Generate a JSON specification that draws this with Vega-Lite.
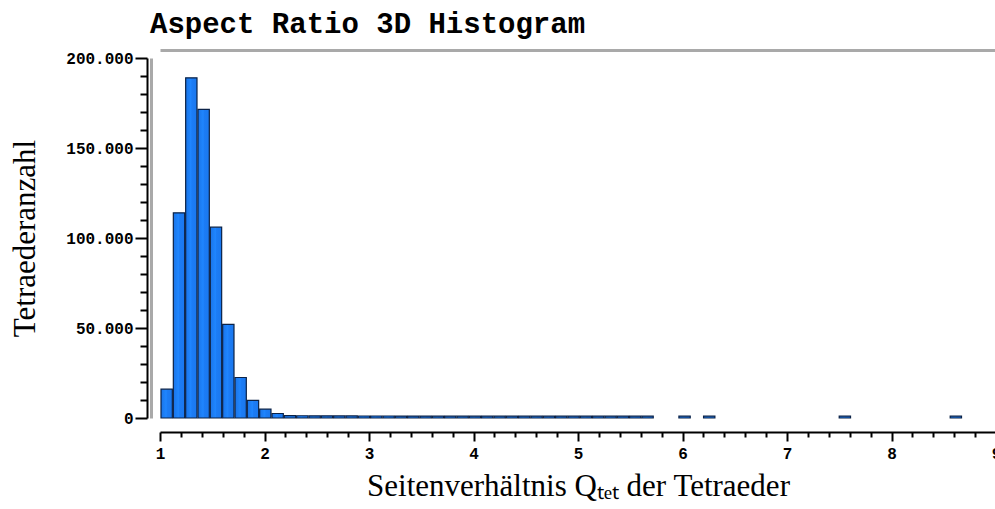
{
  "$schema": "https://vega.github.io/schema/vega-lite/v6.json",
  "autosize": {"type": "none"},
  "padding": {"left": 160, "top": 58, "right": 0, "bottom": 91},
  "width": 836,
  "height": 360,
  "background": "white",
  "title": {
    "text": "Aspect Ratio 3D Histogram",
    "anchor": "start",
    "frame": "group",
    "dx": -10,
    "offset": -12,
    "baseline": "alphabetic",
    "font": "Liberation Mono",
    "fontSize": 29,
    "fontWeight": "bold",
    "color": "black"
  },
  "config": {"view": {"stroke": null}},
  "data": {
    "values": [
      {"start": 1.000, "end": 1.118, "count": 16000},
      {"start": 1.118, "end": 1.236, "count": 114000},
      {"start": 1.236, "end": 1.354, "count": 189000},
      {"start": 1.354, "end": 1.472, "count": 171500},
      {"start": 1.472, "end": 1.590, "count": 106000},
      {"start": 1.590, "end": 1.708, "count": 52000},
      {"start": 1.708, "end": 1.826, "count": 22500},
      {"start": 1.826, "end": 1.944, "count": 9800},
      {"start": 1.944, "end": 2.062, "count": 4900},
      {"start": 2.062, "end": 2.180, "count": 2500},
      {"start": 2.180, "end": 2.298, "count": 1300},
      {"start": 2.298, "end": 2.416, "count": 1250},
      {"start": 2.416, "end": 2.534, "count": 1200},
      {"start": 2.534, "end": 2.652, "count": 1200},
      {"start": 2.652, "end": 2.770, "count": 1150},
      {"start": 2.770, "end": 2.888, "count": 1150},
      {"start": 2.888, "end": 3.006, "count": 1100},
      {"start": 3.006, "end": 3.124, "count": 1100},
      {"start": 3.124, "end": 3.242, "count": 1100},
      {"start": 3.242, "end": 3.360, "count": 1050},
      {"start": 3.360, "end": 3.478, "count": 1050},
      {"start": 3.478, "end": 3.596, "count": 1050},
      {"start": 3.596, "end": 3.714, "count": 1000},
      {"start": 3.714, "end": 3.832, "count": 1000},
      {"start": 3.832, "end": 3.950, "count": 1000},
      {"start": 3.950, "end": 4.068, "count": 1000},
      {"start": 4.068, "end": 4.186, "count": 1000},
      {"start": 4.186, "end": 4.304, "count": 1000},
      {"start": 4.304, "end": 4.422, "count": 1000},
      {"start": 4.422, "end": 4.540, "count": 1000},
      {"start": 4.540, "end": 4.658, "count": 1000},
      {"start": 4.658, "end": 4.776, "count": 1000},
      {"start": 4.776, "end": 4.894, "count": 1000},
      {"start": 4.894, "end": 5.012, "count": 1000},
      {"start": 5.012, "end": 5.130, "count": 1000},
      {"start": 5.130, "end": 5.248, "count": 1000},
      {"start": 5.248, "end": 5.366, "count": 1000},
      {"start": 5.366, "end": 5.484, "count": 1000},
      {"start": 5.484, "end": 5.602, "count": 1000},
      {"start": 5.602, "end": 5.720, "count": 1000},
      {"start": 5.956, "end": 6.074, "count": 1000},
      {"start": 6.192, "end": 6.310, "count": 1000},
      {"start": 7.490, "end": 7.608, "count": 1000},
      {"start": 8.552, "end": 8.670, "count": 1000}
    ]
  },
  "layer": [
    {
      "mark": {
        "type": "point",
        "opacity": 0
      },
      "encoding": {
        "x": {
          "field": "start",
          "type": "quantitative",
          "scale": {"domain": [1, 9], "nice": false, "zero": false},
          "axis": {
            "orient": "top",
            "offset": 8,
            "domainColor": "#a9a9a9",
            "domainWidth": 3,
            "ticks": false,
            "labels": false,
            "grid": false,
            "title": null
          }
        },
        "y": {
          "field": "count",
          "type": "quantitative",
          "scale": {"domain": [0, 200000], "nice": false},
          "axis": {
            "orient": "left",
            "offset": 9,
            "domainColor": "#a9a9a9",
            "domainWidth": 3,
            "ticks": false,
            "labels": false,
            "grid": false,
            "title": null
          }
        }
      }
    },
    {
      "mark": {
        "type": "point",
        "opacity": 0
      },
      "encoding": {
        "x": {
          "field": "start",
          "type": "quantitative",
          "axis": {
            "orient": "bottom",
            "offset": 14,
            "values": [1.2, 1.4, 1.6, 1.8, 2.2, 2.4, 2.6, 2.8, 3.2, 3.4, 3.6, 3.8, 4.2, 4.4, 4.6, 4.8, 5.2, 5.4, 5.6, 5.8, 6.2, 6.4, 6.6, 6.8, 7.2, 7.4, 7.6, 7.8, 8.2, 8.4, 8.6, 8.8],
            "domain": false,
            "labels": false,
            "tickSize": 5,
            "tickWidth": 2,
            "tickColor": "black",
            "grid": false,
            "title": null
          }
        },
        "y": {
          "field": "count",
          "type": "quantitative",
          "axis": {
            "orient": "left",
            "offset": 13,
            "values": [10000, 20000, 30000, 40000, 60000, 70000, 80000, 90000, 110000, 120000, 130000, 140000, 160000, 170000, 180000, 190000],
            "domain": false,
            "labels": false,
            "tickSize": 7,
            "tickWidth": 2,
            "tickColor": "black",
            "grid": false,
            "title": null
          }
        }
      }
    },
    {
      "mark": {
        "type": "bar",
        "stroke": "#0b2247",
        "strokeWidth": 1.2,
        "color": {
          "gradient": "linear",
          "x1": 0, "x2": 1, "y1": 0, "y2": 0,
          "stops": [
            {"offset": 0, "color": "#1a74e8"},
            {"offset": 0.45, "color": "#1f86ff"},
            {"offset": 0.55, "color": "#1c7cf5"},
            {"offset": 1, "color": "#1a78ee"}
          ]
        }
      },
      "encoding": {
        "x": {
          "field": "start",
          "type": "quantitative",
          "bin": {"binned": true, "step": 0.118},
          "axis": {
            "orient": "bottom",
            "offset": 14,
            "values": [1, 2, 3, 4, 5, 6, 7, 8, 9],
            "format": "d",
            "domainColor": "black",
            "domainWidth": 2,
            "tickColor": "black",
            "tickWidth": 2,
            "tickSize": 9,
            "labelFont": "Liberation Mono",
            "labelFontWeight": "bold",
            "labelFontSize": 16,
            "labelColor": "black",
            "labelPadding": 4,
            "labelFlush": false,
            "grid": false,
            "title": "Seitenverhältnis Qₜₑₜ der Tetraeder",
            "titleFont": "Liberation Serif",
            "titleFontSize": 31,
            "titleFontWeight": "normal",
            "titleColor": "black",
            "titlePadding": 10
          }
        },
        "x2": {"field": "end"},
        "y": {
          "field": "count",
          "type": "quantitative",
          "axis": {
            "orient": "left",
            "offset": 13,
            "values": [0, 50000, 100000, 150000, 200000],
            "labelExpr": "replace(format(datum.value, ','), ',', '.')",
            "domainColor": "black",
            "domainWidth": 2,
            "tickColor": "black",
            "tickWidth": 2,
            "tickSize": 12,
            "labelFont": "Liberation Mono",
            "labelFontWeight": "bold",
            "labelFontSize": 16,
            "labelColor": "black",
            "labelPadding": 2,
            "grid": false,
            "title": "Tetraederanzahl",
            "titleFont": "Liberation Serif",
            "titleFontSize": 31,
            "titleFontWeight": "normal",
            "titleColor": "black",
            "titlePadding": 24
          }
        }
      }
    }
  ],
  "resolve": {"axis": {"x": "independent", "y": "independent"}}
}
